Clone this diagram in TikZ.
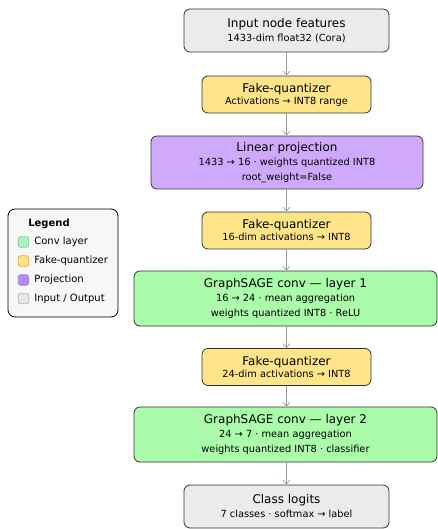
\documentclass[tikz,border=0pt]{standalone}
\usepackage{fontspec}
\setmainfont{DejaVu Sans}
\usetikzlibrary{arrows.meta,positioning}
\definecolor{iofill}{HTML}{EBEBEB}
\definecolor{fqfill}{HTML}{FFE48A}
\definecolor{prfill}{HTML}{CFAAFC}
\definecolor{cvfill}{HTML}{AAFCAA}
\definecolor{bordc}{HTML}{333333}
\definecolor{arrc}{HTML}{999999}
\definecolor{sgfill}{HTML}{A6F2C2}\definecolor{sgdraw}{HTML}{6FD394}
\definecolor{syfill}{HTML}{FFE38A}\definecolor{sydraw}{HTML}{F5A623}
\definecolor{spfill}{HTML}{B58AFF}\definecolor{spdraw}{HTML}{A57AF0}
\definecolor{sifill}{HTML}{E8E8E8}\definecolor{sidraw}{HTML}{BBBBBB}
\newcommand{\ttlf}{\fontsize{12pt}{14pt}\selectfont}
\newcommand{\subf}{\fontsize{9.8pt}{12pt}\selectfont}
\tikzset{
  box/.style={draw=bordc, line width=0.8pt, rounded corners=6pt, align=center, inner sep=0pt},
  iobox/.style={box, fill=iofill, minimum width=205pt, minimum height=43pt},
  fqbox/.style={box, fill=fqfill, minimum width=169pt, minimum height=37pt},
  prbox/.style={box, fill=prfill, minimum width=272pt, minimum height=53pt},
  cvbox/.style={box, fill=cvfill, minimum width=303pt, minimum height=55pt},
  conn/.style={draw=arrc, line width=0.7pt, -{Straight Barb[length=4pt,width=7pt]}},
  swatch/.style={line width=0.8pt, rounded corners=2.5pt, minimum size=10.5pt, inner sep=0pt},
  legtxt/.style={anchor=west, font=\fontsize{10pt}{12pt}\selectfont, inner sep=0pt}
}
\begin{document}
\begin{tikzpicture}[x=1pt,y=-1pt]
\useasboundingbox (0,0) rectangle (437,529);
\node[iobox] (in) at (286.5,30.5) {{\ttlf Input node features}\\[2pt]{\subf 1433-dim float32 (Cora)}};
\node[fqbox] (fq1) at (286.5,94.5) {{\ttlf Fake-quantizer}\\{\subf Activations → INT8 range}};
\node[prbox] (lin) at (287,162.5) {{\ttlf Linear projection}\\[2pt]{\subf 1433 → 16 · weights quantized INT8}\\[2.5pt]{\subf root\_weight=False}};
\node[fqbox] (fq2) at (286.5,230.5) {{\ttlf Fake-quantizer}\\{\subf 16-dim activations → INT8}};
\node[cvbox] (cv1) at (285.5,298.5) {{\ttlf GraphSAGE conv — layer 1}\\[2pt]{\subf 16 → 24 · mean aggregation}\\[2.5pt]{\subf weights quantized INT8 · ReLU}};
\node[fqbox] (fq3) at (286.5,367) {{\ttlf Fake-quantizer}\\{\subf 24-dim activations → INT8}};
\node[cvbox] (cv2) at (285.5,434.5) {{\ttlf GraphSAGE conv — layer 2}\\[2pt]{\subf 24 → 7 · mean aggregation}\\[2.5pt]{\subf weights quantized INT8 · classifier}};
\node[iobox] (out) at (286.5,506.5) {{\ttlf Class logits}\\[2pt]{\subf 7 classes · softmax → label}};
\foreach \a/\b in {in/fq1,fq1/lin,lin/fq2,fq2/cv1,cv1/fq3,fq3/cv2,cv2/out}
  \draw[conn] (\a.south -| in.south) -- (\b.north -| in.south);
% legend
\node[draw=black, line width=0.8pt, fill=black!3, rounded corners=7pt, minimum width=110pt, minimum height=108pt, inner sep=0pt] (leg) at (63,263) {};
\node[font=\bfseries\fontsize{10pt}{12pt}\selectfont, inner sep=0pt] (legt) at (49,224) {Legend};
\node[swatch, draw=sgdraw, fill=sgfill] (s1) at (23.5,242) {};
\node[legtxt, right=5pt of s1] (l1) {Conv layer};
\node[swatch, draw=sydraw, fill=syfill] (s2) at (23.5,261) {};
\node[legtxt, right=5pt of s2] (l2) {Fake-quantizer};
\node[swatch, draw=spdraw, fill=spfill] (s3) at (23.5,280) {};
\node[legtxt, right=5pt of s3] (l3) {Projection};
\node[swatch, draw=sidraw, fill=sifill] (s4) at (23.5,298.5) {};
\node[legtxt, right=5pt of s4] (l4) {Input / Output};
\end{tikzpicture}
\end{document}
